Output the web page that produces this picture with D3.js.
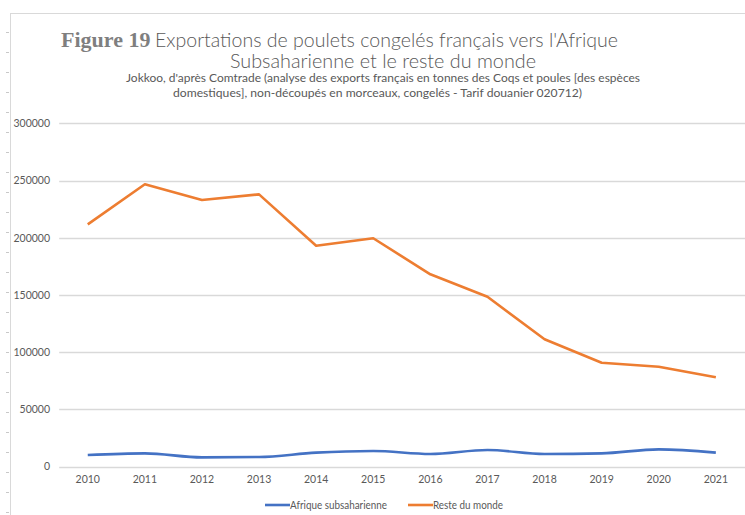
<!DOCTYPE html>
<html><head><meta charset="utf-8">
<script src="https://cdn.jsdelivr.net/npm/d3@7/dist/d3.min.js"></script>
<style>body{margin:0;background:#fff}svg{display:block}</style>
</head><body>
<svg id="c" width="745" height="515"></svg>
<script>
const years = ["2010","2011","2012","2013","2014","2015","2016","2017","2018","2019","2020","2021"];
const afrique = [10050,11500,8000,8300,12100,13500,10900,14400,10900,11500,15000,12100];
const reste = [211700,246700,233000,237900,193000,199500,168000,148400,111200,90700,87200,78000];
const yTicks = [0,50000,100000,150000,200000,250000,300000];
const seriesNames = ["Afrique subsaharienne","Reste du monde"];
const colors = ["#4472C4","#ED7D31"];

const svg = d3.select("#c");
const sans = "Lato, 'Open Sans', sans-serif";
const x = d3.scaleBand().domain(years).range([59.2, 744.4]);
const y = d3.scaleLinear().domain([0,300000]).range([466.5,123.3]);
const cx = d => x(d) + x.bandwidth()/2;

// outer frame
svg.append("line").attr("x1",10).attr("x2",745).attr("y1",13.5).attr("y2",13.5).attr("stroke","#d9d9d9");
svg.append("line").attr("x1",10.5).attr("x2",10.5).attr("y1",13).attr("y2",515).attr("stroke","#d9d9d9");
d3.range(32,515,20).forEach(t=>{
  svg.append("line").attr("x1",6).attr("x2",9).attr("y1",t+0.5).attr("y2",t+0.5).attr("stroke","#c8c8c8");
});

// gridlines
svg.append("g").selectAll("line").data(yTicks).join("line")
  .attr("x1",59.2).attr("x2",745).attr("y1",d=>Math.round(y(d))+0.5).attr("y2",d=>Math.round(y(d))+0.5)
  .attr("stroke","#d9d9d9").attr("stroke-width",1.4);

// y axis
const yAxis = d3.axisLeft(y).tickValues(yTicks).tickSize(0).tickPadding(0).tickFormat(d3.format("d"));
const gy = svg.append("g").attr("transform","translate(50,0)").call(yAxis);
gy.select(".domain").remove();
gy.selectAll("text").attr("font-family",sans).attr("font-size",10.5).attr("fill","#595959");

// x axis
const xAxis = d3.axisBottom(x).tickSize(0).tickPadding(0);
const gx = svg.append("g").attr("transform","translate(0,476)").call(xAxis);
gx.select(".domain").remove();
gx.selectAll("text").attr("font-family",sans).attr("font-size",10.5).attr("fill","#595959");

// lines
const lineLin = d3.line().x((d,i)=>cx(years[i])).y(d=>y(d));
const lineSm = d3.line().x((d,i)=>cx(years[i])).y(d=>y(d)).curve(d3.curveMonotoneX);
svg.append("path").datum(afrique).attr("d",lineSm).attr("fill","none")
  .attr("stroke",colors[0]).attr("stroke-width",2.6).attr("stroke-linejoin","round");
svg.append("path").datum(reste).attr("d",lineLin).attr("fill","none")
  .attr("stroke",colors[1]).attr("stroke-width",2.6).attr("stroke-linejoin","round");

// legend
const legX = [265, 408];
const legW = [97, 70];
seriesNames.forEach((n,i)=>{
  svg.append("line").attr("x1",legX[i]).attr("x2",legX[i]+25).attr("y1",505).attr("y2",505)
    .attr("stroke",colors[i]).attr("stroke-width",2.6);
  svg.append("text").attr("x",legX[i]+25).attr("y",505).attr("dy","0.35em")
    .attr("font-family",sans).attr("font-size",10.5).attr("fill","#595959")
    .attr("textLength",legW[i]).attr("lengthAdjust","spacingAndGlyphs").text(n);
});

// titles
svg.append("text").attr("x",61).attr("y",46.7).attr("font-family","'Liberation Serif','Times New Roman',serif")
  .attr("font-weight","bold").attr("font-size",22).attr("fill","#7f7f7f").text("Figure 19");
svg.append("text").attr("x",155).attr("y",46.7).attr("font-family",sans).attr("font-size",19.5)
  .attr("font-weight",300)
  .attr("fill","#595959").attr("textLength",463).attr("lengthAdjust","spacingAndGlyphs")
  .text("Exportations de poulets congelés français vers l'Afrique");
svg.append("text").attr("x",230).attr("y",67.7).attr("font-family",sans).attr("font-size",19.5)
  .attr("font-weight",300)
  .attr("fill","#595959").attr("textLength",306).attr("lengthAdjust","spacingAndGlyphs")
  .text("Subsaharienne et le reste du monde");
svg.append("text").attr("x",126).attr("y",81.7).attr("font-family",sans).attr("font-size",12)
  .attr("fill","#595959").attr("textLength",514).attr("lengthAdjust","spacingAndGlyphs")
  .text("Jokkoo, d'après Comtrade (analyse des exports français en tonnes des Coqs et poules [des espèces");
svg.append("text").attr("x",173).attr("y",96.7).attr("font-family",sans).attr("font-size",12)
  .attr("fill","#595959").attr("textLength",409).attr("lengthAdjust","spacingAndGlyphs")
  .text("domestiques], non-découpés en morceaux, congelés - Tarif douanier 020712)");
</script>
</body></html>
